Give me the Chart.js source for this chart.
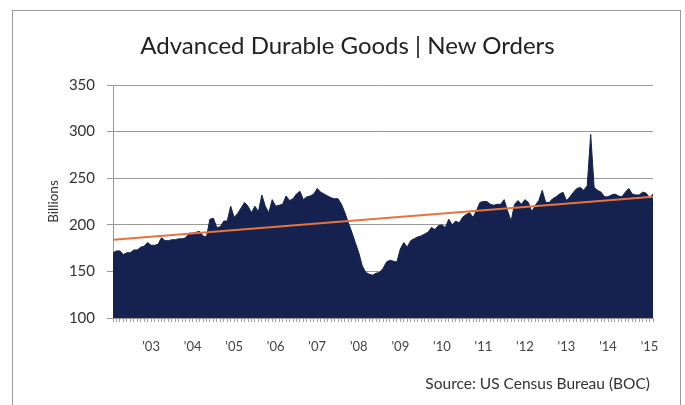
<!DOCTYPE html>
<html>
<head>
<meta charset="utf-8">
<script src="https://cdn.jsdelivr.net/npm/chart.js@4/dist/chart.umd.min.js"></script>
<style>
  html, body { margin: 0; padding: 0; background: #fff; }
  #frame {
    position: absolute; left: 12px; top: 10px;
    width: 667px; height: 400px;
    border: 1px solid #9a9a9a;
  }
  #title {
    position: absolute; left: 0; width: 669px; top: 19px;
    text-align: center; font-family: Lato, sans-serif; font-size: 24px; color: #222;
  }
  #source {
    position: absolute; right: 30px; top: 363px;
    font-family: Lato, sans-serif; font-size: 15.5px; color: #333;
  }
  canvas { position: absolute; left: 0; top: 0; }
</style>
</head>
<body>
<div id="frame">
  <canvas id="chart" width="667" height="400"></canvas>
  <div id="title">Advanced Durable Goods | New Orders</div>
  <div id="source">Source: US Census Bureau (BOC)</div>
</div>
<script>
// monthly new orders, billions of dollars, Feb 2002 .. Feb 2015
const orders = [
  170, 172, 172, 168, 170, 170, 173, 173, 176, 177, 181, 178,
  178, 179, 186, 183, 183, 184, 184, 185, 185, 186, 191, 191,
  192, 193, 188, 187, 206, 207, 197, 198, 204, 204, 220, 208,
  212, 218, 224, 220, 213, 220, 214, 232, 220, 213, 227, 220,
  221, 222, 231, 226, 228, 233, 236, 227, 230, 231, 233, 239,
  235, 233, 231, 229, 228, 228, 222, 213, 202, 192, 181, 170,
  156, 149, 147, 146, 148, 149, 153, 160, 162, 161, 160, 174,
  181, 176, 183, 185, 187, 188, 190, 192, 197, 195, 199, 200,
  197, 206, 200, 204, 202, 208, 211, 213, 208, 215, 224, 225,
  225, 222, 221, 222, 222, 227, 215, 204, 222, 226, 222, 227,
  224, 214, 221, 226, 237, 224, 224, 228, 230, 233, 235, 226,
  230, 235, 239, 240, 237, 242, 297, 240, 237, 235, 230, 230,
  232, 233, 231, 230, 235, 239, 233, 232, 232, 235, 234, 229,
  233
];
const yearLabels = ["'03", "'04", "'05", "'06", "'07", "'08", "'09", "'10", "'11", "'12", "'13", "'14", "'15"];
const firstJanuary = 11;          // index of Jan 2003 in orders
const trendStart = 184;
const trendEnd = 230;
const yTicks = [100, 150, 200, 250, 300, 350];

const lastIndex = orders.length - 1;
const areaPoints = orders.map((v, i) => ({ x: i, y: v }));
const trendPoints = [{ x: 0, y: trendStart }, { x: lastIndex, y: trendEnd }];

new Chart(document.getElementById('chart'), {
  type: 'line',
  data: {
    datasets: [
      {
        label: 'Trend',
        data: trendPoints,
        borderColor: '#e8743b',
        borderWidth: 2,
        pointRadius: 0,
        fill: false
      },
      {
        label: 'New Orders',
        data: areaPoints,
        borderColor: '#15224f',
        backgroundColor: '#15224f',
        borderWidth: 1,
        pointRadius: 0,
        tension: 0,
        fill: 'start'
      }
    ]
  },
  options: {
    responsive: false,
    animation: false,
    layout: { padding: { top: 74, right: 27, bottom: 53, left: 0 } },
    plugins: { legend: { display: false }, tooltip: { enabled: false } },
    scales: {
      x: {
        type: 'linear',
        min: 0,
        max: lastIndex,
        afterBuildTicks: scale => {
          scale.ticks = orders.map((_, i) => ({ value: i }));
        },
        afterFit: scale => { scale.height = 40; },
        ticks: {
          autoSkip: false,
          maxRotation: 0,
          padding: 17,
          color: '#444',
          font: { family: 'Lato', size: 13 },
          callback: value => {
            const k = (value - firstJanuary) / 12;
            return Number.isInteger(k) && yearLabels[k] ? yearLabels[k] : '';
          }
        },
        grid: { drawOnChartArea: false, color: '#a0a0a0', tickLength: 4 },
        border: { color: '#9a9a9a' }
      },
      y: {
        min: 100,
        max: 350,
        afterBuildTicks: scale => {
          scale.ticks = yTicks.map(v => ({ value: v }));
        },
        afterFit: scale => { scale.width = 100; },
        ticks: {
          padding: 12,
          color: '#333',
          font: { family: 'Lato', size: 15 }
        },
        grid: { color: '#9a9a9a', tickLength: 6 },
        border: { color: '#9a9a9a' },
        title: {
          display: true,
          text: 'Billions',
          color: '#333',
          font: { family: 'Lato', size: 13.5 },
          padding: { top: 33, bottom: 0 }
        }
      }
    }
  }
});
</script>
</body>
</html>
